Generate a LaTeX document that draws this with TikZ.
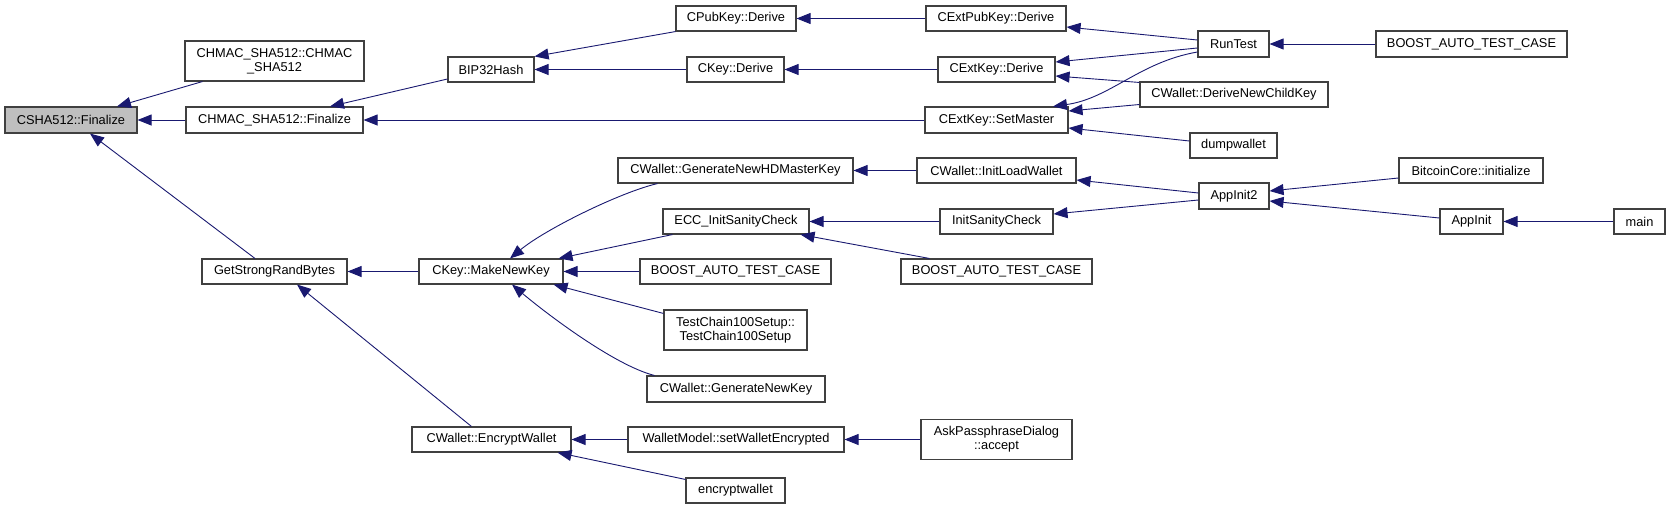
\documentclass[tikz,border=0pt]{standalone}
\usepackage{fontspec}
\setmainfont{Liberation Sans}
\usetikzlibrary{arrows.meta}
\definecolor{edgeblue}{HTML}{191970}
\definecolor{boxgray}{HTML}{BFBFBF}
\begin{document}
\begin{tikzpicture}[x=1pt,y=-1pt,
  box/.style={draw=black!75, line width=1.1pt, fill=white, inner sep=0pt, align=center,
    font=\fontsize{12.8}{14.3}\selectfont, text=black},
  edge/.style={draw=edgeblue, line width=0.9pt, -{Triangle[length=14pt,width=11pt]}}]
\useasboundingbox (0,0) rectangle (1671,509);
% column 1
\node[box, fill=boxgray, minimum width=132pt, minimum height=26pt] (fin) at (71,120) {CSHA512::Finalize};
% column 2
\node[box, minimum width=179pt, minimum height=40pt] (hmacc) at (274.5,61) {CHMAC\_SHA512::CHMAC\\\_SHA512};
\node[box, minimum width=177pt, minimum height=26pt] (hmacf) at (274.5,120) {CHMAC\_SHA512::Finalize};
\node[box, minimum width=145pt, minimum height=25pt] (gsrb) at (274.5,271.5) {GetStrongRandBytes};
% column 3
\node[box, minimum width=86pt, minimum height=25pt] (bip) at (491,69.5) {BIP32Hash};
\node[box, minimum width=144pt, minimum height=25pt] (mnk) at (491,271.5) {CKey::MakeNewKey};
\node[box, minimum width=159pt, minimum height=25pt] (encw) at (491.5,439.5) {CWallet::EncryptWallet};
% column 4
\node[box, minimum width=120pt, minimum height=25pt] (pubd) at (736,18.5) {CPubKey::Derive};
\node[box, minimum width=97pt, minimum height=25pt] (keyd) at (735.5,69.5) {CKey::Derive};
\node[box, minimum width=235pt, minimum height=25pt] (gnhd) at (735.5,170.5) {CWallet::GenerateNewHDMasterKey};
\node[box, minimum width=146pt, minimum height=25pt] (ecc) at (736,221.5) {ECC\_InitSanityCheck};
\node[box, minimum width=191pt, minimum height=25pt] (bat1) at (735.5,271.5) {BOOST\_AUTO\_TEST\_CASE};
\node[box, minimum width=143pt, minimum height=40pt] (tc) at (735.5,330) {TestChain100Setup::\\TestChain100Setup};
\node[box, minimum width=178pt, minimum height=26pt] (gnk) at (736,389) {CWallet::GenerateNewKey};
\node[box, minimum width=216pt, minimum height=25pt] (swe) at (736,439.5) {WalletModel::setWalletEncrypted};
\node[box, minimum width=99pt, minimum height=25pt] (ew) at (735.5,490.5) {encryptwallet};
% column 5
\node[box, minimum width=140pt, minimum height=25pt] (epd) at (996,18.5) {CExtPubKey::Derive};
\node[box, minimum width=117pt, minimum height=25pt] (ekd) at (996.5,69.5) {CExtKey::Derive};
\node[box, minimum width=143pt, minimum height=26pt] (esm) at (996.5,120) {CExtKey::SetMaster};
\node[box, minimum width=159pt, minimum height=25pt] (ilw) at (996.5,170.5) {CWallet::InitLoadWallet};
\node[box, minimum width=113pt, minimum height=25pt] (isc) at (996.5,221.5) {InitSanityCheck};
\node[box, minimum width=191pt, minimum height=25pt] (bat2) at (996.5,271.5) {BOOST\_AUTO\_TEST\_CASE};
\node[box, minimum width=151pt, minimum height=40pt] (apd) at (996.5,439.5) {AskPassphraseDialog\\::accept};
% column 6
\node[box, minimum width=71pt, minimum height=26pt] (rt) at (1233.5,44) {RunTest};
\node[box, minimum width=188pt, minimum height=25pt] (dnck) at (1234,94.5) {CWallet::DeriveNewChildKey};
\node[box, minimum width=87pt, minimum height=25pt] (dw) at (1233.5,145.5) {dumpwallet};
\node[box, minimum width=70pt, minimum height=26pt] (ai2) at (1234,196) {AppInit2};
% column 7
\node[box, minimum width=191pt, minimum height=26pt] (bat3) at (1471.5,44) {BOOST\_AUTO\_TEST\_CASE};
\node[box, minimum width=144pt, minimum height=25pt] (bci) at (1471,170.5) {BitcoinCore::initialize};
\node[box, minimum width=63pt, minimum height=25pt] (ai) at (1471.5,221.5) {AppInit};
% column 8
\node[box, minimum width=51pt, minimum height=25pt] (main) at (1639.5,221.5) {main};
% edges
\draw[edge] ([xshift=18pt]hmacc.south west) -- ([xshift=46pt]fin.north);
\draw[edge] (hmacf) -- (fin);
\draw[edge] ([xshift=-19.5pt]gsrb.north) -- ([xshift=19pt]fin.south);
\draw[edge] ([yshift=-9.5pt]bip.west) -- ([xshift=55.5pt]hmacf.north);
\draw[edge] (esm) -- (hmacf);
\draw[edge] (pubd.south west) -- (bip.north east);
\draw[edge] (keyd) -- (bip);
\draw[edge] (epd) -- (pubd);
\draw[edge] (ekd) -- (keyd);
\draw[edge] ([yshift=4pt]rt.west) -- ([yshift=-8.5pt]epd.east);
\draw[edge] ([yshift=-4pt]rt.west) -- ([yshift=7.5pt]ekd.east);
\draw[edge] ([yshift=-8pt]rt.west) .. controls +(-58,10) and +(57,-8) .. ([xshift=56.5pt]esm.north);
\draw[edge] ([yshift=-1pt]dnck.north west) -- ([yshift=-6.5pt]ekd.east);
\draw[edge] ([yshift=-10pt]dnck.west) -- ([yshift=9pt]esm.east);
\draw[edge] ([yshift=4.5pt]dw.west) -- ([yshift=-8pt]esm.east);
\draw[edge] (bat3) -- (rt);
\draw[edge] (ilw) -- (gnhd);
\draw[edge] ([yshift=3pt]ai2.west) -- ([yshift=-9.5pt]ilw.east);
\draw[edge] ([yshift=-4pt]ai2.west) -- ([yshift=7.5pt]isc.east);
\draw[edge] ([yshift=-7.5pt]bci.west) -- ([yshift=5pt]ai2.east);
\draw[edge] ([yshift=3.5pt]ai.west) -- ([yshift=-5pt]ai2.east);
\draw[edge] (main) -- (ai);
\draw[edge] (isc) -- (ecc);
\draw[edge] ([xshift=29pt]bat2.north west) -- ([xshift=-9pt]ecc.south east);
\draw[edge] ([xshift=40pt]gnhd.south west) .. controls +(-38,9) and +(35,-29) .. ([xshift=19pt]mnk.north);
\draw[edge] ([xshift=10pt]ecc.south west) -- ([xshift=-5pt]mnk.north east);
\draw[edge] (bat1) -- (mnk);
\draw[edge] ([yshift=-4pt]tc.north west) -- ([xshift=-10pt]mnk.south east);
\draw[edge] ([xshift=8pt]gnk.north west) .. controls +(-40,-10) and +(33,28) .. ([xshift=21pt]mnk.south);
\draw[edge] (mnk) -- (gsrb);
\draw[edge] ([xshift=60pt]encw.north west) -- ([xshift=22.5pt]gsrb.south);
\draw[edge] (swe) -- (encw);
\draw[edge] ([yshift=-2pt]ew.north west) -- ([xshift=-14pt]encw.south east);
\draw[edge] (apd) -- (swe);
\end{tikzpicture}
\end{document}
